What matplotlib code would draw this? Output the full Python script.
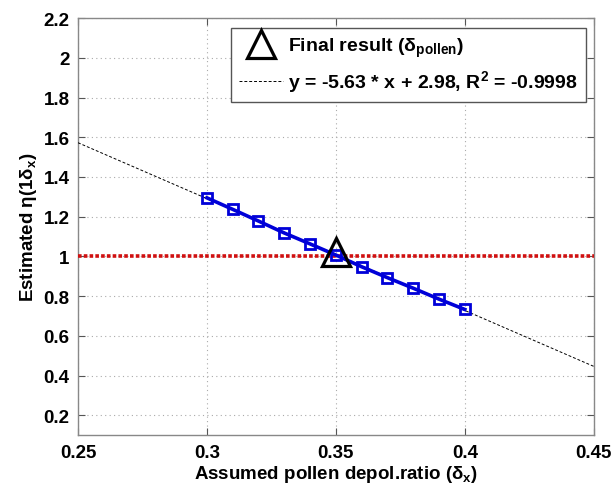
import numpy as np
import matplotlib
matplotlib.use("Agg")
import matplotlib.pyplot as plt

plt.rcParams['font.family'] = ['Liberation Sans', 'DejaVu Sans']
plt.rcParams['font.weight'] = 'bold'
plt.rcParams['axes.labelweight'] = 'bold'
plt.rcParams['mathtext.fontset'] = 'custom'
plt.rcParams['mathtext.rm'] = 'Liberation Sans:bold'
plt.rcParams['mathtext.bf'] = 'Liberation Sans:bold'
plt.rcParams['mathtext.it'] = 'Liberation Sans:bold'
plt.rcParams['mathtext.default'] = 'bf'

# Assumed depolarization ratios and the estimated eta values
delta_x = [0.30, 0.31, 0.32, 0.33, 0.34, 0.35, 0.36, 0.37, 0.38, 0.39, 0.40]
eta_est = [1.295, 1.237, 1.178, 1.118, 1.063, 1.007, 0.948, 0.893, 0.840, 0.785, 0.733]

# Linear fit coefficients
fit_slope = -5.63
fit_intercept = 2.98
fit_r2 = -0.9998

# Final result
delta_pollen = 0.35
eta_pollen = 1.02

x_ticks = [0.25, 0.30, 0.35, 0.40, 0.45]
x_tick_labels = ['0.25', '0.3', '0.35', '0.4', '0.45']
y_ticks = [0.2, 0.4, 0.6, 0.8, 1.0, 1.2, 1.4, 1.6, 1.8, 2.0, 2.2]
y_tick_labels = ['0.2', '0.4', '0.6', '0.8', '1', '1.2', '1.4', '1.6', '1.8', '2', '2.2']

fig = plt.figure(figsize=(6.14, 4.89), dpi=100)
ax = fig.add_axes([0.127, 0.108, 0.840, 0.853])

x_fit = np.array([0.25, 0.45])
ax.plot(x_fit, fit_slope * x_fit + fit_intercept, color='black', lw=0.7,
        ls=(0, (3, 2)), zorder=3,
        label='y = -5.63 * x + 2.98, R$^2$ = %.4f' % fit_r2)
ax.axhline(1.0, color='#d01010', lw=2.6, ls=(0, (1, 0.6)), zorder=4)
ax.plot(delta_x, eta_est, color='#0000d8', lw=2.6, marker='s', ms=7.5,
        mfc='none', mec='#0000d8', mew=2.0, zorder=5)
ax.plot([delta_pollen], [eta_pollen], ls='none', marker='^', ms=20,
        mfc='none', mec='black', mew=2.3, zorder=6,
        label='Final result (δ$_{pollen}$)')

ax.set_xlim(0.25, 0.45)
ax.set_ylim(0.1, 2.2)
ax.set_xticks(x_ticks)
ax.set_xticklabels(x_tick_labels)
ax.set_yticks(y_ticks)
ax.set_yticklabels(y_tick_labels)
ax.tick_params(direction='in', top=True, right=True, labelsize=13.5,
               length=5, color='#555555', pad=6)
for s in ax.spines.values():
    s.set_color('#888888')
    s.set_linewidth(1.0)
ax.grid(True, color='#aaaaaa', ls=(0, (1, 3)), lw=0.8)
ax.set_axisbelow(True)

ax.set_xlabel('Assumed pollen depol.ratio (δ$_x$)', fontsize=13.5, labelpad=2)
ax.set_ylabel('Estimated η(1δ$_x$)', fontsize=13.5, labelpad=3)

handles, labels = ax.get_legend_handles_labels()
leg = ax.legend(handles[::-1], labels[::-1], loc='upper right',
                bbox_to_anchor=(0.985, 0.977), fontsize=14,
                fancybox=False, edgecolor='#555555', framealpha=1,
                handlelength=2.3, handletextpad=0.25, borderpad=0.4,
                labelspacing=0.5, borderaxespad=0)
leg.get_frame().set_linewidth(1.0)

fig.savefig('out.png', dpi=100)
